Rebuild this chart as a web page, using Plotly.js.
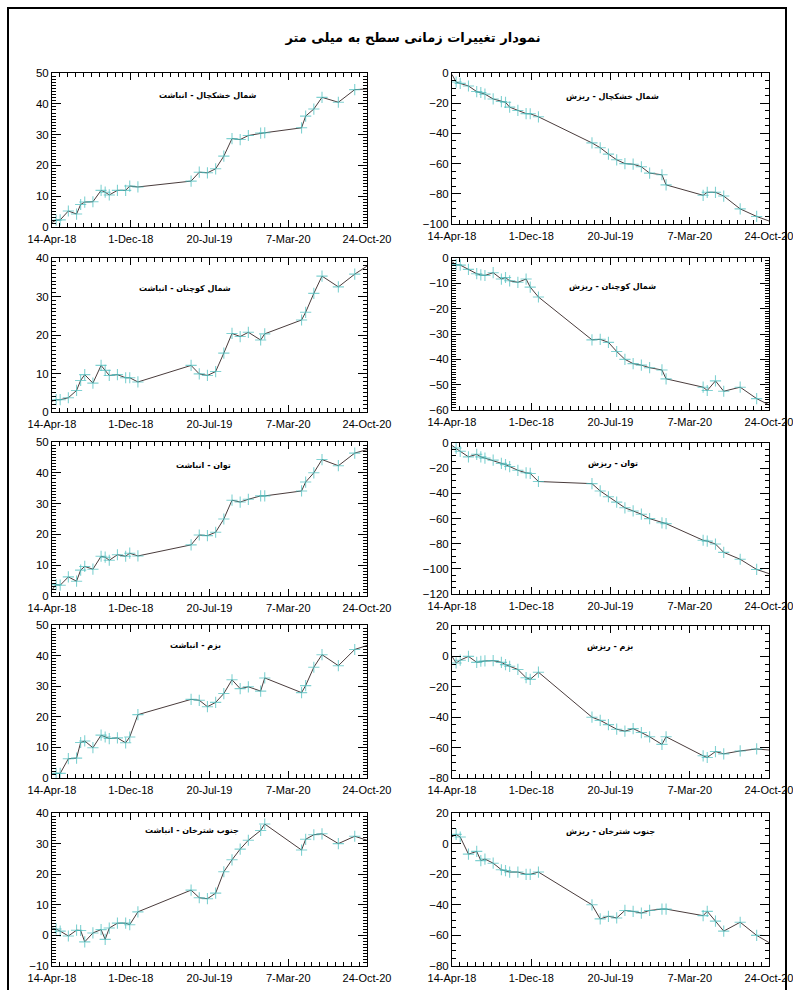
<!DOCTYPE html>
<html>
<head>
<meta charset="utf-8">
<script src="https://cdn.plot.ly/plotly-3.0.1.min.js"></script>
<style>
  html, body { margin: 0; padding: 0; background: #ffffff; overflow: hidden; }
  #wrap { position: relative; width: 793px; height: 990px; overflow: hidden; }
  #chart { position: absolute; left: 0; top: 0; width: 840px; height: 990px; }
  #frame { position: absolute; left: 7px; top: 7px; width: 776px; height: 1000px; border: 2px solid #000; pointer-events: none; }
</style>
</head>
<body>
<div id="wrap">
  <div id="chart"></div>
  <div id="frame"></div>
</div>
<script>
// ---------------- DATA ----------------
const mainTitle = "نمودار تغییرات زمانی سطح به میلی متر";

const dates = [
  '2018-04-14','2018-04-26','2018-05-08','2018-06-01','2018-06-25','2018-07-07','2018-07-19','2018-08-12',
  '2018-09-05','2018-09-17','2018-09-29','2018-10-23','2018-11-16','2018-11-28','2018-12-22',
  '2019-05-27','2019-06-20','2019-07-14','2019-08-07','2019-08-31','2019-09-24','2019-10-18','2019-11-11',
  '2019-12-17','2019-12-29',
  '2020-04-15','2020-04-27','2020-05-21','2020-06-14','2020-08-01','2020-09-18','2020-10-24'
];

const xTickVals = ['2018-04-14','2018-12-01','2019-07-20','2020-03-07','2020-10-24'];
const xTickText = ['14-Apr-18','1-Dec-18','20-Jul-19','7-Mar-20','24-Oct-20'];

const panelTitles = [
  "شمال خشکچال - انباشت", "شمال خشکچال - ریزش",
  "شمال کوچنان - انباشت", "شمال کوچنان - ریزش",
  "توان - انباشت", "توان - ریزش",
  "بزم - انباشت", "بزم - ریزش",
  "جنوب شترخان - انباشت", "جنوب شترخان - ریزش"
];

const khoshkchalUp = [1.5, 2.2, 2.3, 5.2, 4.2, 7.3, 8.1, 8.2, 11.9, 11.3, 10.4, 11.9, 11.9, 13.3, 13.0,
  14.9, 17.8, 17.6, 18.9, 23.0, 28.7, 28.4, 29.7, 30.5, 30.6,
  32.2, 36.0, 38.3, 42.1, 40.5, 44.6, 44.8];
const khoshkchalDown = [-1.0, -6.0, -6.9, -8.6, -12.3, -12.9, -14.0, -17.2, -18.9, -19.4, -22.6, -24.8, -26.9, -27.0, -29.0,
  -46.3, -49.5, -53.7, -57.5, -60.0, -60.4, -62.1, -66.3, -67.4, -74.1,
  -81.0, -79.0, -79.0, -81.5, -90.0, -95.0, -98.0];
const kuchenanUp = [2.8, 3.2, 3.2, 3.7, 5.6, 8.2, 9.7, 7.5, 12.1, 10.8, 9.5, 9.7, 8.9, 8.9, 7.8,
  12.1, 9.9, 9.5, 10.5, 15.3, 20.4, 19.6, 20.7, 18.7, 20.3,
  23.9, 25.9, 30.8, 35.3, 32.5, 35.8, 37.9];
const kuchenanDown = [-1.5, -2.6, -2.8, -4.5, -6.2, -6.7, -6.9, -5.8, -8.3, -7.7, -9.0, -9.6, -8.3, -11.5, -15.4,
  -32.3, -32.1, -33.3, -36.9, -40.0, -41.7, -42.3, -43.3, -44.2, -47.7,
  -51.0, -52.3, -48.5, -52.6, -51.0, -55.5, -58.0];
const tavanUp = [2.0, 3.7, 3.5, 6.2, 4.8, 8.4, 9.6, 8.7, 12.9, 12.6, 11.6, 13.4, 12.9, 13.9, 13.0,
  16.6, 19.8, 19.6, 20.7, 25.0, 31.1, 30.5, 31.4, 32.5, 32.5,
  34.1, 37.0, 40.0, 44.3, 42.3, 46.4, 47.5];
const tavanDown = [-2.0, -4.0, -6.6, -11.0, -9.0, -11.0, -12.0, -13.6, -16.2, -17.2, -18.7, -21.7, -23.7, -24.2, -30.6,
  -32.3, -38.1, -42.7, -47.0, -51.5, -54.0, -56.6, -60.1, -63.4, -64.1,
  -77.3, -78.0, -80.3, -86.9, -92.4, -100.5, -103.8];
const bazmUp = [1.2, 1.5, 1.5, 6.3, 6.5, 11.6, 12.1, 9.9, 14.0, 13.4, 12.9, 13.1, 11.5, 13.4, 20.7,
  25.7, 25.4, 23.3, 24.7, 27.6, 32.1, 29.2, 29.8, 28.4, 32.7,
  27.9, 30.2, 36.2, 40.3, 36.7, 42.0, 43.3];
const bazmDown = [0.0, -4.3, -2.5, 0.0, -3.9, -3.2, -3.0, -2.8, -3.9, -5.4, -6.5, -8.6, -14.0, -15.1, -10.4,
  -40.0, -42.1, -44.9, -47.9, -49.2, -47.5, -50.1, -52.9, -57.9, -52.9,
  -65.4, -66.5, -62.6, -64.1, -62.2, -60.9, -61.6];
const shotorkhanUp = [2.4, 2.1, 1.4, -0.2, 1.7, 1.6, -2.1, 0.8, 1.9, -1.3, 2.4, 4.0, 4.0, 3.5, 7.7,
  14.8, 12.3, 12.0, 13.8, 20.8, 24.7, 28.2, 31.1, 34.3, 36.4,
  27.9, 31.4, 32.9, 33.2, 30.0, 32.4, 31.1];
const shotorkhanDown = [4.5, 6.0, 4.3, -6.9, -5.1, -11.1, -10.1, -12.8, -17.1, -17.6, -18.6, -18.6, -20.1, -20.1, -18.6,
  -40.0, -49.2, -47.5, -48.6, -43.7, -44.3, -45.4, -43.7, -42.8, -42.8,
  -47.1, -44.3, -50.7, -57.2, -51.4, -60.0, -64.7];

const yRanges = [[0, 50], [-100, 0], [0, 40], [-60, 0], [0, 50], [-120, 0], [0, 50], [-80, 20], [-10, 40], [-80, 20]];
const yMajor = [10, 20, 10, 10, 10, 20, 10, 20, 10, 20];
const yMinor = [1, 5, 1, 1, 1, 5, 1, 5, 1, 5];

// ---------------- LAYOUT / STYLE ----------------
const series = [khoshkchalUp, khoshkchalDown, kuchenanUp, kuchenanDown, tavanUp, tavanDown,
                bazmUp, bazmDown, shotorkhanUp, shotorkhanDown];

const W = 840, H = 990;
const colX = [[52, 367], [452, 769]];
const rowY = [ // [top, bottom] for left, right
  [[73, 227], [73, 224]],
  [[258, 412], [258, 410]],
  [[442, 596], [443, 594]],
  [[625, 778], [626, 778]],
  [[813, 966], [813, 966]]
];
const titlePos = [[208, 96], [612, 97], [185, 288], [612, 287], [203, 466], [613, 464],
                  [195, 645], [610, 647], [192, 830], [610, 832]];

const DAY = 86400000;
const xFont = {family: 'Liberation Sans, Arial, sans-serif', size: 11, color: '#000'};
const yFont = {family: 'Liberation Sans, Arial, sans-serif', size: 11.5, color: '#000'};

const traces = [];
const layout = {
  width: W, height: H,
  margin: {l: 0, r: 0, t: 0, b: 0},
  paper_bgcolor: 'rgba(0,0,0,0)', plot_bgcolor: '#fff',
  showlegend: false,
  title: {
    text: '<b>' + mainTitle + '</b>',
    x: 413 / W, y: 1 - 37 / H, xanchor: 'center', yanchor: 'middle', xref: 'paper', yref: 'paper',
    font: {family: 'DejaVu Sans, sans-serif', size: 13, color: '#000'}
  },
  annotations: []
};

series.forEach((vals, i) => {
  const row = Math.floor(i / 2), col = i % 2;
  const n = i + 1;
  const sfx = n === 1 ? '' : String(n);
  const [top, bottom] = rowY[row][col];
  const sizes = vals.map((v, k) => (k === 0 || k === vals.length - 1) ? 0 : 8);
  traces.push({
    type: 'scatter', mode: 'lines+markers',
    x: dates, y: vals,
    xaxis: 'x' + sfx, yaxis: 'y' + sfx,
    line: {color: '#4a3c3c', width: 1},
    marker: {symbol: 'cross-thin', size: sizes, color: '#4cc0c0', line: {color: '#4cc0c0', width: 1.1}},
    hoverinfo: 'skip'
  });
  layout['xaxis' + sfx] = {
    type: 'date', domain: [colX[col][0] / W, colX[col][1] / W],
    anchor: 'y' + sfx,
    range: ['2018-04-14', '2020-10-24'],
    tickmode: 'array', tickvals: xTickVals, ticktext: xTickText,
    ticks: 'inside', ticklen: 7, tickwidth: 1, tickcolor: '#000', ticklabelstandoff: 2,
    minor: {ticks: 'inside', ticklen: 4, tickcolor: '#000', tick0: '2018-04-14', dtick: 23.1 * DAY, showgrid: false},
    showline: true, linecolor: '#000', linewidth: 1, mirror: 'allticks',
    showgrid: false, zeroline: false, tickfont: xFont, fixedrange: true
  };
  layout['yaxis' + sfx] = {
    domain: [1 - bottom / H, 1 - top / H],
    anchor: 'x' + sfx,
    range: yRanges[i], tickmode: 'linear', tick0: 0, dtick: yMajor[i],
    ticks: 'inside', ticklen: 9, tickwidth: 1, tickcolor: '#000',
    minor: {ticks: 'inside', ticklen: 4, tickcolor: '#000', dtick: yMinor[i], showgrid: false},
    showline: true, linecolor: '#000', linewidth: 1, mirror: 'allticks',
    showgrid: false, zeroline: false, tickfont: yFont, fixedrange: true
  };
  layout.annotations.push({
    text: '<b>' + panelTitles[i] + '</b>', xref: 'paper', yref: 'paper',
    x: titlePos[i][0] / W, y: 1 - titlePos[i][1] / H, xanchor: 'center', yanchor: 'middle',
    showarrow: false, font: {family: 'DejaVu Sans, sans-serif', size: 8, color: '#000'}
  });
});

Plotly.newPlot('chart', traces, layout, {staticPlot: true, displayModeBar: false});
</script>
</body>
</html>
